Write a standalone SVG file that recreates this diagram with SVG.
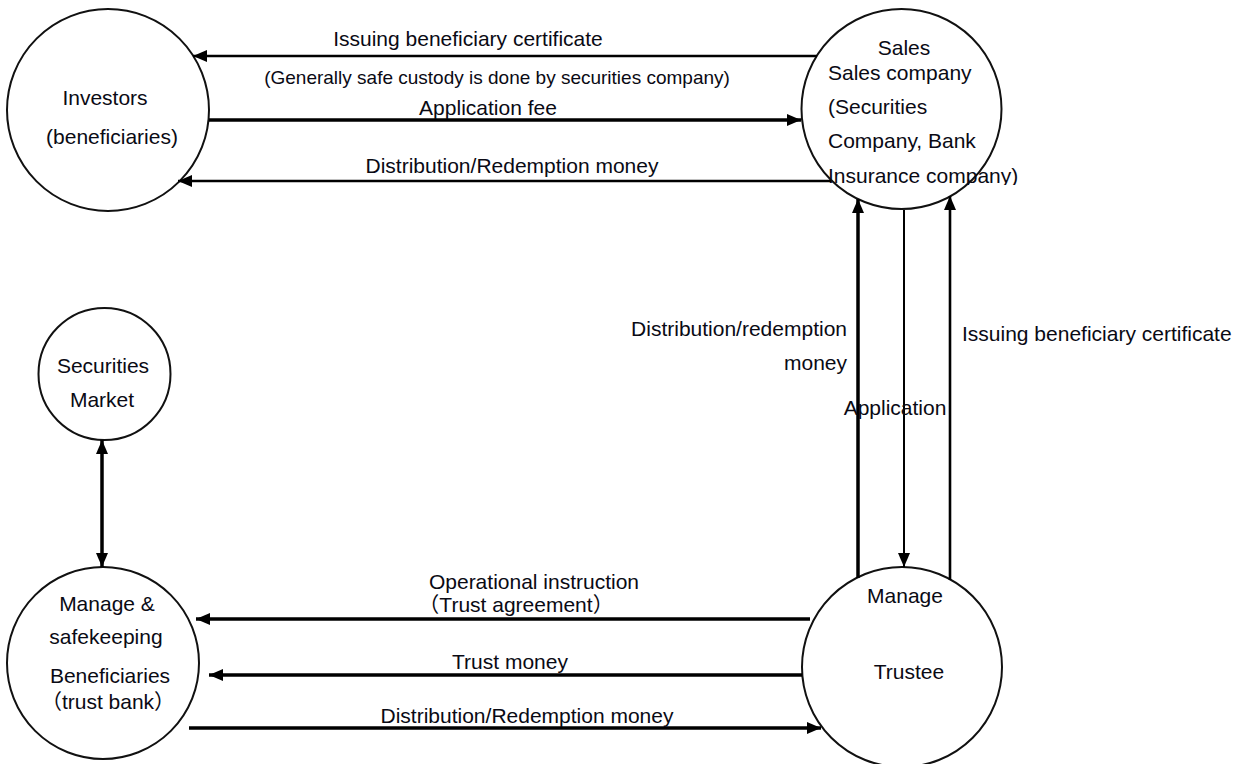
<svg xmlns="http://www.w3.org/2000/svg" width="1247" height="764" viewBox="0 0 1247 764">
<style>
text{font-family:"Liberation Sans","Noto Sans CJK JP",Arial,sans-serif;font-size:21px;fill:#0a0a14}
.s{font-size:19px}
.c{text-anchor:middle}
.e{text-anchor:end}
circle{fill:#fff;stroke:#111;stroke-width:2}
.l{stroke:#000;fill:none}
.t{stroke-width:3.5}
.m{stroke-width:2.6}
.n{stroke-width:2}
</style>
<defs>
<marker id="ah" viewBox="0 0 14 12" refX="14" refY="6" markerWidth="14" markerHeight="12" markerUnits="userSpaceOnUse" orient="auto-start-reverse">
<path d="M0,0 L14,6 L0,12 Z" fill="#000"/>
</marker>
<clipPath id="clipIns"><rect x="800" y="150" width="260" height="35"/></clipPath>
</defs>
<rect width="1247" height="764" fill="#fff"/>

<g id="investors">
<circle cx="108" cy="110" r="101"/>
<text class="c" x="105" y="105">Investors</text>
<text class="c" x="112" y="144">(beneficiaries)</text>
</g>

<g id="sales">
<circle cx="901.5" cy="109" r="100"/>
<text class="c" x="904" y="55">Sales</text>
<text x="828" y="80">Sales company</text>
<text x="828" y="114">(Securities</text>
<text x="828" y="148">Company, Bank</text>
<text x="828" y="183" clip-path="url(#clipIns)">Insurance company)</text>
</g>

<g id="securities-market">
<circle cx="104.5" cy="374" r="66"/>
<text class="c" x="103" y="373">Securities</text>
<text class="c" x="102" y="407">Market</text>
</g>

<g id="trust-bank">
<circle cx="103" cy="663" r="96"/>
<text class="c" x="107" y="611">Manage &amp;</text>
<text class="c" x="106" y="644">safekeeping</text>
<text class="c" x="110" y="683">Beneficiaries</text>
<text class="c" x="108" y="709">（trust bank）</text>
</g>

<g id="trustee">
<circle cx="902" cy="667" r="100"/>
<text class="c" x="905" y="603">Manage</text>
<text class="c" x="909" y="679">Trustee</text>
</g>

<g id="connectors">
<line class="l m" x1="817" y1="56" x2="193" y2="56" marker-end="url(#ah)"/>
<line class="l t" x1="209" y1="120" x2="801" y2="120" marker-end="url(#ah)"/>
<line class="l m" x1="831" y1="181" x2="178" y2="181" marker-end="url(#ah)"/>
<line class="l t" x1="858" y1="578" x2="858" y2="199" marker-end="url(#ah)"/>
<line class="l n" x1="904" y1="210" x2="904" y2="567" marker-end="url(#ah)"/>
<line class="l m" x1="950" y1="580" x2="950" y2="196" marker-end="url(#ah)"/>
<line class="l t" x1="102" y1="440" x2="102" y2="567" marker-start="url(#ah)" marker-end="url(#ah)"/>
<line class="l t" x1="810" y1="619" x2="196" y2="619" marker-end="url(#ah)"/>
<line class="l t" x1="802" y1="675" x2="209" y2="675" marker-end="url(#ah)"/>
<line class="l t" x1="189" y1="728" x2="821" y2="728" marker-end="url(#ah)"/>
</g>

<g id="labels">
<text class="c" x="468" y="46">Issuing beneficiary certificate</text>
<text class="c s" x="497" y="84">(Generally safe custody is done by securities company)</text>
<text class="c" x="488" y="115">Application fee</text>
<text class="c" x="512" y="173">Distribution/Redemption money</text>
<text class="e" x="847" y="336">Distribution/redemption</text>
<text class="e" x="847" y="370">money</text>
<text x="962" y="341">Issuing beneficiary certificate</text>
<text class="c" x="895" y="415">Application</text>
<text class="c" x="534" y="589">Operational instruction</text>
<text class="c" x="516" y="612">（Trust agreement）</text>
<text class="c" x="510" y="669">Trust money</text>
<text class="c" x="527" y="723">Distribution/Redemption money</text>
</g>
</svg>
